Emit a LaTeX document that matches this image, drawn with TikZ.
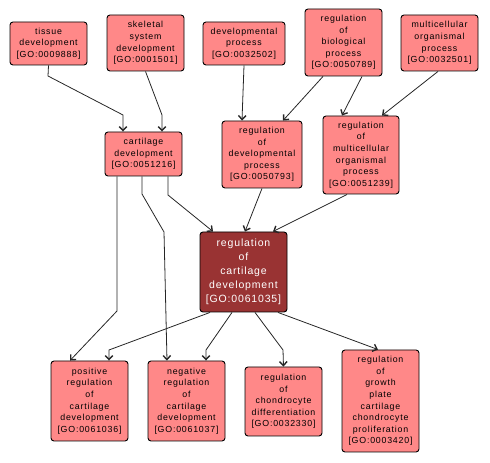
\documentclass[tikz,border=0pt]{standalone}
\usepackage{fontspec}
\usetikzlibrary{arrows.meta}
\newfontfamily\gofont{Liberation Sans}[LetterSpace=9]
\newfontfamily\gofontb{Liberation Sans}[LetterSpace=8]
\definecolor{gopink}{HTML}{FF8888}
\definecolor{gored}{HTML}{993333}
\begin{document}
\begin{tikzpicture}[x=1pt,y=1pt,
  term/.style={draw=black,line width=0.9pt,fill=gopink,rounded corners=3pt,
    align=center,inner sep=0pt,font=\gofont\fontsize{8.8}{11.6}\selectfont},
  focus/.style={draw=black,line width=0.9pt,fill=gored,rounded corners=3pt,
    align=center,inner sep=0pt,text=white,font=\gofontb\fontsize{10.5}{14}\selectfont},
  edge/.style={draw=black!85,line width=0.8pt,-{Straight Barb[length=4pt,width=7.5pt,line width=1.4pt]}}]
\useasboundingbox (0,0) rectangle (490,463);
% y = 463 - ypx
\node[term,minimum width=77,minimum height=43] (tissue) at (48.5,419.5) {tissue\\development\\{[GO:0009888]}};
\node[term,minimum width=77,minimum height=56] (skel) at (145.5,420) {skeletal\\system\\development\\{[GO:0001501]}};
\node[term,minimum width=82,minimum height=43] (devproc) at (244,419.5) {developmental\\process\\{[GO:0032502]}};
\node[term,minimum width=77,minimum height=67] (regbio) at (343.5,420.5) {regulation\\of\\biological\\process\\{[GO:0050789]}};
\node[term,minimum width=77,minimum height=56] (multi) at (439.5,420) {multicellular\\organismal\\process\\{[GO:0032501]}};
\node[term,minimum width=77,minimum height=44] (cart) at (143.5,309) {cartilage\\development\\{[GO:0051216]}};
\node[term,minimum width=80,minimum height=67] (regdev) at (262,308.5) {regulation\\of\\developmental\\process\\{[GO:0050793]}};
\node[term,minimum width=76,minimum height=78] (regmulti) at (361,308) {regulation\\of\\multicellular\\organismal\\process\\{[GO:0051239]}};
\node[focus,minimum width=87,minimum height=80] (regcart) at (243.5,191) {regulation\\of\\cartilage\\development\\{[GO:0061035]}};
\node[term,minimum width=77,minimum height=80] (pos) at (89.5,62) {positive\\regulation\\of\\cartilage\\development\\{[GO:0061036]}};
\node[term,minimum width=77,minimum height=80] (neg) at (186.5,62) {negative\\regulation\\of\\cartilage\\development\\{[GO:0061037]}};
\node[term,minimum width=77,minimum height=69] (chon) at (283.5,61.5) {regulation\\of\\chondrocyte\\differentiation\\{[GO:0032330]}};
\node[term,minimum width=77,minimum height=102] (growth) at (380.5,62) {regulation\\of\\growth\\plate\\cartilage\\chondrocyte\\proliferation\\{[GO:0003420]}};
% bend points
\coordinate (b1a) at (48,387);
\coordinate (b1b) at (123,348);
\coordinate (b2) at (162,348);
\coordinate (b7) at (168,268);
\coordinate (b8) at (117,152);
\coordinate (b9a) at (142,269);
\coordinate (b9b) at (164,231);
\coordinate (b12) at (109,113);
\coordinate (b13) at (206,113);
\coordinate (b14) at (283,113);
% edges
\draw[edge] (tissue.south) -- (b1a) -- (b1b) -- ([xshift=-20.5pt]cart.north);
\draw[edge] (skel.south) -- (b2) -- ([xshift=18.5pt]cart.north);
\draw[edge] (devproc.south) -- ([xshift=-20pt]regdev.north);
\draw[edge] ([xshift=-20.5pt]regbio.south) -- ([xshift=21pt]regdev.north);
\draw[edge] ([xshift=18.5pt]regbio.south) -- ([xshift=-19pt]regmulti.north);
\draw[edge] ([xshift=-1.5pt]multi.south) -- ([xshift=21pt]regmulti.north);
\draw[edge] ([xshift=24.5pt]cart.south) -- (b7) -- ([xshift=-30.5pt]regcart.north);
\draw[edge] ([xshift=-26.5pt]cart.south) -- (b8) -- ([xshift=-19.5pt]pos.north);
\draw[edge] ([xshift=-1.5pt]cart.south) -- (b9a) -- (b9b) -- ([xshift=-19.5pt]neg.north);
\draw[edge] (regdev.south) -- ([xshift=1.5pt]regcart.north);
\draw[edge] ([xshift=-14pt]regmulti.south) -- ([xshift=29.5pt]regcart.north);
\draw[edge] ([xshift=-33.5pt]regcart.south) -- (b12) -- ([xshift=19.5pt]pos.north);
\draw[edge] ([xshift=-11.5pt]regcart.south) -- (b13) -- ([xshift=19.5pt]neg.north);
\draw[edge] ([xshift=11.5pt]regcart.south) -- (b14) -- (chon.north);
\draw[edge] ([xshift=34.5pt]regcart.south) -- ([xshift=-2.5pt]growth.north);
\end{tikzpicture}
\end{document}
